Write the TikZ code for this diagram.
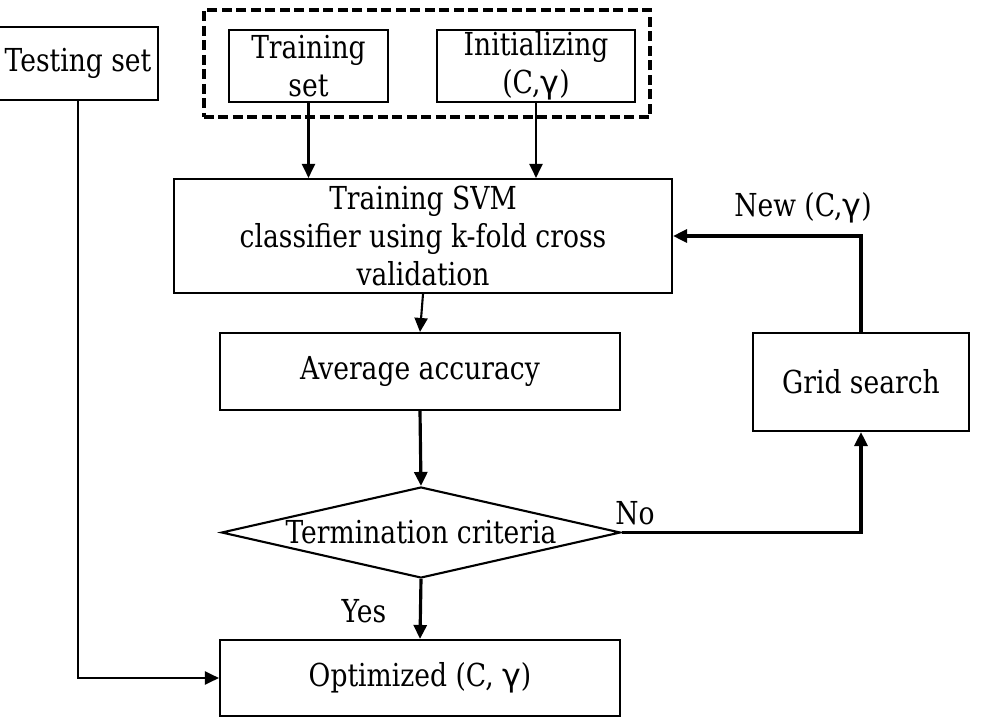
\documentclass[tikz,border=0pt]{standalone}
\usepackage{fontspec}
\setmainfont{DejaVu Serif}[FakeStretch=0.84]
\newfontfamily\gamfont{DejaVu Sans}
\newcommand{\gam}{{\gamfont γ}}
\usetikzlibrary{shapes.geometric,arrows.meta}
\begin{document}
\begin{tikzpicture}[x=0.02cm,y=-0.02cm,
  font=\fontsize{18}{21.5}\selectfont,
  box/.style={draw,line width=1.2pt,inner sep=0pt,align=center},
  thin/.style={line width=1.2pt,-{Triangle[length=0.28cm,width=0.26cm]}},
  thick/.style={line width=1.8pt,-{Triangle[length=0.28cm,width=0.26cm]}},
  lab/.style={inner sep=0pt}]
\useasboundingbox (0,0) rectangle (988,717);
\node[draw,line width=2.3pt,dash pattern=on 0.2cm off 0.09cm,minimum width=446*0.02cm,minimum height=107*0.02cm,inner sep=0pt] (grp) at (427,63.5) {};
\node[box,minimum width=160*0.02cm,minimum height=73*0.02cm] (test) at (78,63.5) {Testing set};
\node[box,minimum width=159*0.02cm,minimum height=72*0.02cm] (train) at (308.5,66) {Training\\set};
\node[box,minimum width=198*0.02cm,minimum height=72*0.02cm] (init) at (536,66) {Initializing\\(C,\gam)};
\node[box,minimum width=498*0.02cm,minimum height=114*0.02cm] (svm) at (423,236) {Training SVM\\classifier using k-fold cross\\validation};
\node[box,minimum width=400*0.02cm,minimum height=77*0.02cm] (avg) at (420,371.5) {Average accuracy};
\node[draw,diamond,line width=1.2pt,inner sep=0pt,minimum width=399*0.02cm,minimum height=91*0.02cm] (dia) at (421,532.5) {};
\node[lab] (diatext) at (421,532.5) {Termination criteria};
\node[box,minimum width=216*0.02cm,minimum height=98*0.02cm] (grid) at (861,382) {Grid search};
\node[box,minimum width=400*0.02cm,minimum height=76*0.02cm] (opt) at (420,678) {Optimized (C, \gam)};
\node[lab] (no) at (635,513) {No};
\node[lab] (new) at (803,208) {New (C,\gam)};
\node[lab] (yes) at (364,611) {Yes};
\draw[thin] (train.south) -- (train.south |- svm.north);
\draw[thin] (init.south) -- (init.south |- svm.north);
\draw[thin] (svm.south) -- (avg.north);
\draw[thin] (test.south) |- (opt.west);
\draw[thick] (avg.south) -- (dia.north);
\draw[thick] (dia.south) -- (opt.north);
\draw[thick] (dia.east) -| (grid.south);
\draw[thick] (grid.north) |- (svm.east);
\end{tikzpicture}
\end{document}
